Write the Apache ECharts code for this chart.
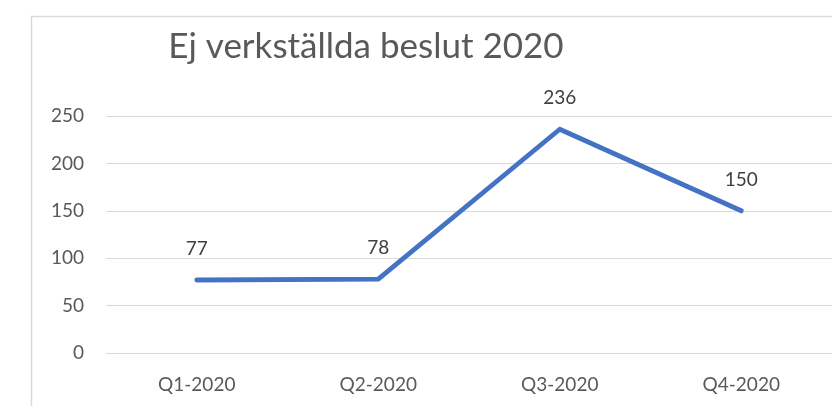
<!DOCTYPE html>
<html>
<head>
<meta charset="utf-8">
<script src="https://cdn.jsdelivr.net/npm/echarts@6/dist/echarts.min.js"></script>
<style>
html,body{margin:0;padding:0;background:#fff;}
#chart{width:832px;height:406px;}
</style>
</head>
<body>
<div id="chart"></div>
<script>
const titleText = 'Ej verkställda beslut 2020';
const categories = ['Q1-2020', 'Q2-2020', 'Q3-2020', 'Q4-2020'];
const values = [77, 78, 236, 150];
const yTicks = [0, 50, 100, 150, 200, 250];

const chart = echarts.init(document.getElementById('chart'), null, {renderer: 'canvas'});
const FONT = 'Lato';
chart.setOption({
  backgroundColor: '#ffffff',
  animation: false,
  graphic: [{
    type: 'rect',
    shape: {x: 31.5, y: 16.5, width: 900, height: 500},
    style: {fill: 'none', stroke: '#d9d9d9', lineWidth: 1.5},
    silent: true
  }],
  title: {
    text: titleText,
    left: 361,
    textAlign: 'center',
    top: 24,
    textStyle: {fontFamily: FONT, fontSize: 35, fontWeight: 'normal', color: '#595959'}
  },
  grid: {left: 106, right: -2, top: 116, bottom: 53, containLabel: false},
  xAxis: {
    type: 'category',
    data: categories,
    boundaryGap: true,
    axisLine: {show: true, lineStyle: {color: '#d9d9d9', width: 1}},
    axisTick: {show: false},
    axisLabel: {fontFamily: FONT, fontSize: 19, color: '#595959', margin: 22}
  },
  yAxis: {
    type: 'value',
    min: yTicks[0],
    max: yTicks[yTicks.length - 1],
    interval: 50,
    axisLine: {show: false},
    axisTick: {show: false},
    splitLine: {lineStyle: {color: '#d9d9d9', width: 1}},
    axisLabel: {fontFamily: FONT, fontSize: 19, color: '#595959', margin: 22}
  },
  series: [{
    type: 'line',
    data: values,
    symbol: 'circle',
    symbolSize: 1,
    showSymbol: true,
    itemStyle: {color: 'rgba(0,0,0,0)', borderWidth: 0},
    lineStyle: {color: '#4472c4', width: 4.8, cap: 'round', join: 'round'},
    label: {
      show: true,
      position: 'top',
      distance: 21,
      fontFamily: FONT,
      fontSize: 19,
      color: '#404040'
    }
  }]
});
</script>
</body>
</html>
